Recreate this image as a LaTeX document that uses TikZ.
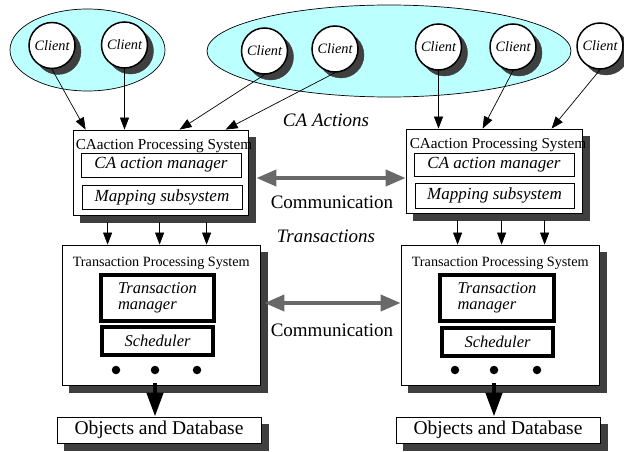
\documentclass[tikz,border=0pt]{standalone}
\usepackage{fontspec}
\setmainfont{Liberation Serif}
\usetikzlibrary{arrows.meta,calc}
\definecolor{ecyan}{RGB}{188,255,255}
\definecolor{commgray}{RGB}{105,105,105}
\newcommand{\fsz}[1]{\fontsize{#1}{#1}\selectfont}
\begin{document}
\begin{tikzpicture}[x=1pt,y=-1pt,
  client/.style={circle,draw,line width=1.5pt,fill=white,minimum size=46pt,inner sep=0pt,
    font=\fsz{14.3}\itshape},
  sysbox/.style={draw,line width=0.8pt,fill=white,inner sep=0pt},
  subbox/.style={draw,line width=0.8pt,fill=white,inner sep=0pt,font=\fsz{17}\itshape},
  heavybox/.style={draw,line width=3.5pt,fill=white,inner sep=0pt,font=\fsz{16.5}\itshape},
  title/.style={inner sep=0pt,anchor=base west},
  dotnode/.style={circle,fill=black,minimum size=8.5pt,inner sep=0pt},
  arr/.style={line width=0.7pt,-{Triangle[length=12pt,width=9pt]}},
  bigarr/.style={line width=4.5pt,-{Triangle[length=24pt,width=16pt]}},
  comm/.style={commgray,line width=4pt,{Triangle[length=20pt,width=16pt]}-{Triangle[length=20pt,width=16pt]}},
  lbl/.style={inner sep=0pt,font=\fsz{19}}
]
\useasboundingbox (0,0) rectangle (624,452);
\draw[fill=ecyan,line width=0.7pt] (87.5,50) ellipse [x radius=77.5,y radius=41];
\draw[fill=ecyan,line width=0.7pt] (389,51) ellipse [x radius=182,y radius=46];

% shadows drawn as thick strokes
\foreach \p in {(58,51.5),(130.5,51),(270.5,57),(341,55),(444.5,53),(519,53),(606,52)}
  \draw[commgray!60!black,fill=commgray!60!black] \p circle [radius=23];
\draw[commgray!60!black,fill=commgray!60!black] (80,137) -- (255,137) -- (255,222) -- (80,222) -- cycle;
\draw[commgray!60!black,fill=commgray!60!black] (413,136) -- (589,136) -- (589,220) -- (413,220) -- cycle;
\draw[commgray!60!black,fill=commgray!60!black] (69,252) -- (267,252) -- (267,392) -- (69,392) -- cycle;
\draw[commgray!60!black,fill=commgray!60!black] (408,252) -- (606,252) -- (606,392) -- (408,392) -- cycle;
\draw[commgray!60!black,fill=commgray!60!black] (64,424) -- (268,424) -- (268,450) -- (64,450) -- cycle;
\draw[commgray!60!black,fill=commgray!60!black] (403,424) -- (607,424) -- (607,450) -- (403,450) -- cycle;

\node[client] (c1) at (52,45.5) {Client};
\node[client] (c2) at (124.5,45) {Client};
\node[client] (c3) at (264.5,51) {Client};
\node[client] (c4) at (335,49) {Client};
\node[client] (c5) at (438.5,47) {Client};
\node[client] (c6) at (513,47) {Client};
\node[client] (c7) at (600,46) {Client};

\node[sysbox,minimum width=175pt,minimum height=85pt] (caL) at (160.5,172.5) {};
\node[sysbox,minimum width=176pt,minimum height=84pt] (caR) at (494,171) {};
\node[title,font=\fsz{15.2}] (caLt) at ($(caL.north west)+(3,20)$) {CAaction Processing System};
\node[title,font=\fsz{15.2}] (caRt) at ($(caR.north west)+(4,20)$) {CAaction Processing System};
\node[subbox,minimum width=160pt,minimum height=24pt] (amL) at (161,165) {CA action manager};
\node[subbox,minimum width=160pt,minimum height=24pt] (mpL) at (162,197) {Mapping subsystem};
\node[subbox,minimum width=160pt,minimum height=23pt] (amR) at (494,164.5) {CA action manager};
\node[subbox,minimum width=159pt,minimum height=25pt] (mpR) at (494.5,195.5) {Mapping subsystem};

\node[sysbox,minimum width=198pt,minimum height=140pt] (tpL) at (161,315) {};
\node[sysbox,minimum width=198pt,minimum height=140pt] (tpR) at (500,315) {};
\node[title,font=\fsz{14.2}] (tpLt) at ($(tpL.north west)+(11,22)$) {Transaction Processing System};
\node[title,font=\fsz{14.2}] (tpRt) at ($(tpR.north west)+(11,22)$) {Transaction Processing System};
\node[heavybox,minimum width=113pt,minimum height=46pt,align=left] (tmL) at (157.5,298) {Transaction\\manager};
\node[heavybox,minimum width=114pt,minimum height=46pt,align=left] (tmR) at (497,298) {Transaction\\manager};
\node[heavybox,minimum width=111pt,minimum height=28pt] (scL) at (157.5,341) {Scheduler};
\node[heavybox,minimum width=111pt,minimum height=28pt] (scR) at (497.5,342) {Scheduler};
\node[dotnode] (d1) at (116,370) {};
\node[dotnode] (d2) at (155,370) {};
\node[dotnode] (d3) at (197,370) {};
\node[dotnode] (d4) at (455,370) {};
\node[dotnode] (d5) at (494,370) {};
\node[dotnode] (d6) at (537,370) {};

\node[sysbox,minimum width=204pt,minimum height=26pt,font=\fsz{19.5}] (obL) at (159,430) {Objects and Database};
\node[sysbox,minimum width=204pt,minimum height=26pt,font=\fsz{19.5}] (obR) at (498,430) {Objects and Database};

\node[lbl,font=\fsz{19}\itshape] (caact) at (326,120) {CA Actions};
\node[lbl] (com1) at (332,202) {Communication};
\node[lbl,font=\fsz{19}\itshape] (trans) at (326,236) {Transactions};
\node[lbl] (com2) at (332,330) {Communication};

\draw[arr] (c1.south) -- ([xshift=13pt]caL.north west);
\draw[arr] (c2.south) -- (c2.south |- caL.north);
\draw[arr] (c3.south) -- ([xshift=107pt]caL.north west);
\draw[arr] (c4.south) -- ([xshift=153pt]caL.north west);
\draw[arr] (c5.south) -- (c5.south |- caR.north);
\draw[arr] (c6.south) -- ([xshift=77pt]caR.north west);
\draw[arr] (c7.south) -- ([xshift=146pt]caR.north west);

\draw[arr] ([xshift=35pt]caL.south west) ++(0,7) -- ([xshift=35pt]caL.south west |- tpL.north);
\draw[arr] ([xshift=87pt]caL.south west) ++(0,7) -- ([xshift=87pt]caL.south west |- tpL.north);
\draw[arr] ([xshift=134pt]caL.south west) ++(0,7) -- ([xshift=134pt]caL.south west |- tpL.north);
\draw[arr] ([xshift=52pt]caR.south west) ++(0,7) -- ([xshift=52pt]caR.south west |- tpR.north);
\draw[arr] ([xshift=96pt]caR.south west) ++(0,7) -- ([xshift=96pt]caR.south west |- tpR.north);
\draw[arr] ([xshift=139pt]caR.south west) ++(0,7) -- ([xshift=139pt]caR.south west |- tpR.north);

\draw[bigarr] ([yshift=2pt]d2 |- tpL.south) -- (d2 |- obL.north);
\draw[bigarr] ([yshift=2pt]d5 |- tpR.south) -- (d5 |- obR.north);

\draw[comm] ($(caL.east)+(8,5.5)$) coordinate (k1) -- (k1 -| caR.west);
\draw[comm] ($(tpL.east)+(4,-12)$) coordinate (k2) -- (k2 -| tpR.west);
\end{tikzpicture}
\end{document}
